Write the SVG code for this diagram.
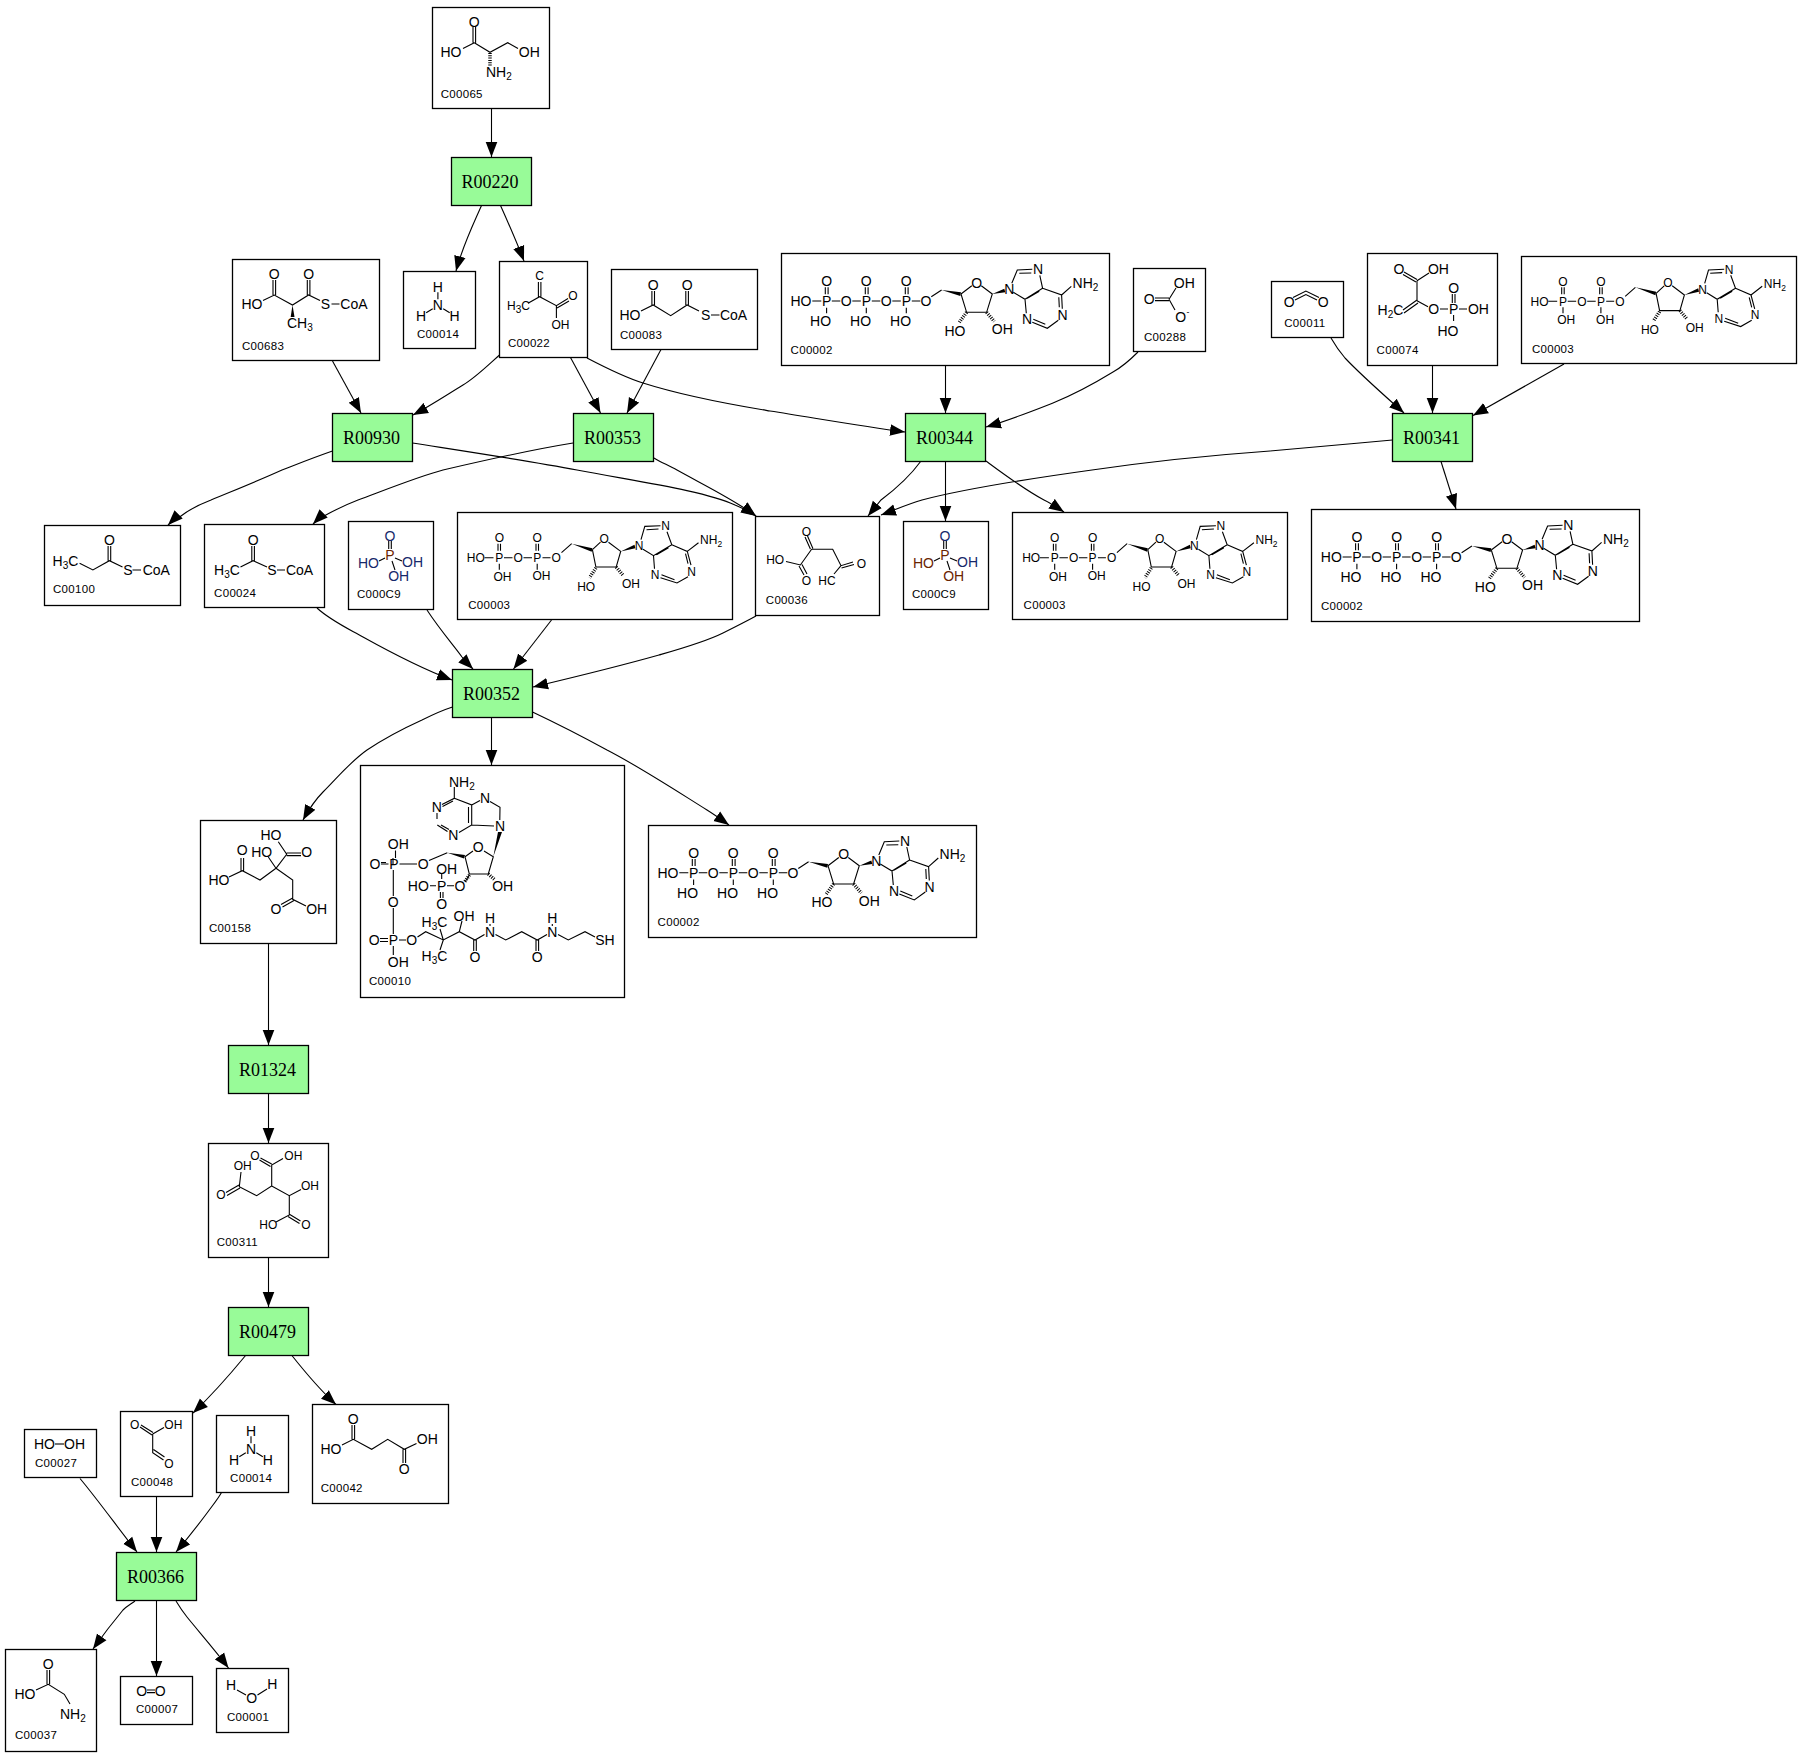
<svg xmlns="http://www.w3.org/2000/svg" xmlns:xlink="http://www.w3.org/1999/xlink" width="1801" height="1757" viewBox="0 0 1801 1757">
<style>
text{font-family:"Liberation Sans",Arial,sans-serif;fill:#000}
.n{fill:#fff;stroke:#000;stroke-width:1.3}
.r{fill:#98fb98;stroke:#000;stroke-width:1.3}
.rt{font-family:"Liberation Serif","Times New Roman",serif;font-size:18px;text-anchor:middle;transform:translate(-1px,-1px)}
.b{fill:none;stroke:#000;stroke-width:1.1}
.w{fill:#000;stroke:none}
.h{fill:none;stroke:#000;stroke-width:3.5;stroke-dasharray:1 1.3}
.a{font-size:14px;text-anchor:middle}
.m{font-size:12px;text-anchor:middle}
.st{font-size:14px}
.sm{font-size:12px}
.s{font-size:10px}
.ss{font-size:8.5px}
.l{font-size:11.5px;letter-spacing:.3px}
.c{fill:none;stroke:#000;stroke-width:1.1;marker-end:url(#ah)}
.bl{fill:#16286a}
.pr{fill:#6a2400}
</style>
<defs>
<marker id="ah" markerUnits="userSpaceOnUse" markerWidth="16" markerHeight="13" viewBox="0 -6.5 16 13" refX="15" refY="0" orient="auto"><path d="M0,-5.8L15,0L0,5.8z" fill="#000"/></marker>
<g id="atp-bonds">
<path class="b" d="M31,47.7H40M50.5,47.7H59M71,47.7H79.5M90.5,47.7H99M111,47.7H119.5M130.5,47.7H139M44,34V41M46.8,34V41M84,34V41M86.8,34V41M124,34V41M126.8,34V41M45.3,54.5V60M85,54.5V60M125,54.5V60M150,43.5L160.3,36.7M179.7,40.7L190.5,32.5M200,32.5L211,40.7L205.3,59H185.3L179.7,40.7M230.5,30L236,16.7L251,16M238,20L250,19.7M258.5,22L261.3,35L243.7,46L232,39M258,38L246,45M243.7,46L245,60M251,69L266,75L277,67M252,66L264,71M281,55.5L280.3,41.7L261.3,35M278,54L277.5,44M280.3,41.7L290,33"/>
<path class="w" d="M160.3,36.7L179.7,39L179,42.7zM211,40.7L223,35.5L224,39z"/>
<path class="h" d="M185.3,59L178,69M205.3,59L213,68"/>
</g>
<g id="adp-bonds">
<path class="b" d="M27,45H36M46.5,45H55M66,45H74.5M85,45H93M40.5,31V38M43,31V38M78.5,31V38M81,31V38M41.8,51V57M79.7,51V57M104,40L114.2,31M134.9,37L143,29.5M151,29.5L163.2,38.7L158.7,54.3H138.4L134.9,37M183.5,27L187.3,13.7L203,13M189,17L201,16.3M209.5,19L214.3,32L196,43L185.5,36.5M211,35L199,42M196,43L197,56M203,65L219.5,70.3L230.5,64M204,62L217,67M233.5,52.5L229.8,38.7L214.3,32M230.5,51L228,41M229.8,38.7L241,30"/>
<path class="w" d="M114.2,31L134.9,35.5L134.2,39zM163.2,38.7L177,32L177.8,35.5z"/>
<path class="h" d="M138.4,55.3L132,65M158.7,54.3L166,63"/>
</g>
</defs>

<g id="connectors">
<path class="c" d="M491.5,108.5V157"/>
<path class="c" d="M481.5,205.5C473,225 463,245 456,271"/>
<path class="c" d="M500.5,205.5C507,220 516,240 524,261"/>
<path class="c" d="M332.5,361L361,413"/>
<path class="c" d="M499.5,355C485,368 475,378 463,385C445,396 430,406 413,415"/>
<path class="c" d="M570.5,357.5L600.5,413"/>
<path class="c" d="M661,349.5L627,413"/>
<path class="c" d="M587,358C610,370 630,379 643,383C690,398 740,406 770,411C815,418 860,426 905,432"/>
<path class="c" d="M945.5,366V413"/>
<path class="c" d="M1138,352C1130,360 1122,367 1113,372C1095,383 1075,394 1053,403C1030,412 1010,420 986,427"/>
<path class="c" d="M1331,338C1335,345 1339,351 1345,358C1362,376 1385,396 1404,413"/>
<path class="c" d="M1432.5,365.5V413"/>
<path class="c" d="M1564,364L1473,415.5"/>
<path class="c" d="M332.5,451C315,457 300,463 282,470C260,480 235,490 211,500C198,505 190,509 181,516C176,520 171,522 168,525"/>
<path class="c" d="M412.5,443C470,452 530,461 577,470C640,482 705,491 735,505C742,508 750,512 756,516"/>
<path class="c" d="M573,443C530,450 490,459 443,470C420,476 385,490 358,500C345,505 335,510 324,516C320,519 316,521 313,524"/>
<path class="c" d="M654,458C660,462 668,465 677,470C702,484 735,500 756,516"/>
<path class="c" d="M921,461C913,472 897,488 881,500C877,505 872,511 868,516"/>
<path class="c" d="M1392.5,440C1350,444 1300,448 1270,451C1200,456 1140,463 1092,470C1020,480 960,490 922,500C905,505 895,510 881,515"/>
<path class="c" d="M945.5,461.5V521"/>
<path class="c" d="M986,461C1005,475 1025,490 1044,500C1052,504 1058,508 1064,512"/>
<path class="c" d="M1441,461.5L1456,509"/>
<path class="c" d="M317,608C330,620 345,627 363,637C390,652 420,668 452,680"/>
<path class="c" d="M427,610C440,630 455,647 462,657C466,662 470,666 473,669"/>
<path class="c" d="M551.5,620L513.5,669"/>
<path class="c" d="M756,616C745,622 735,627 723,633C705,642 680,649 659,655C620,666 575,677 533,687"/>
<path class="c" d="M452.5,707C440,711 432,715 422,720C400,730 382,740 367,750C350,762 338,777 323,792C315,800 308,811 303,820"/>
<path class="c" d="M491.5,717.5V765"/>
<path class="c" d="M532.5,712C560,725 585,738 607,750C640,767 675,790 707,810C715,815 722,820 729,825"/>
<path class="c" d="M268.5,943.5V1045"/>
<path class="c" d="M268.5,1093.5V1143"/>
<path class="c" d="M268.5,1257.5V1307"/>
<path class="c" d="M246,1355C232,1372 212,1395 193,1413"/>
<path class="c" d="M291.5,1355C305,1372 320,1390 336,1404.5"/>
<path class="c" d="M80,1478.5C98,1500 118,1528 137,1552"/>
<path class="c" d="M156.5,1497V1552"/>
<path class="c" d="M221.5,1492.5C219,1497 216,1501 213,1505C202,1520 188,1538 176,1552"/>
<path class="c" d="M135,1601C131,1604 127,1606 123,1610C113,1622 103,1635 93,1649"/>
<path class="c" d="M156.5,1601V1676"/>
<path class="c" d="M176,1601C179,1606 183,1612 187,1617C200,1633 215,1650 228.5,1668"/>
</g>

<g id="C00065"><rect class="n" x="432.5" y="7.5" width="117" height="101"/>
<path class="b" d="M473,27V42.7M475.6,27V42.7M474.3,42.7L490,52.3L507.7,42.7L518,48.5M474.3,42.7L463,48.5"/><path class="h" d="M490,53V66"/>
<text class="a" x="474.3" y="27.3">O</text><text class="a" x="451" y="57.3">HO</text><text class="a" x="529.3" y="57.3">OH</text><text class="st" x="486" y="77.3">NH<tspan class="s" dy="3">2</tspan></text>
<text class="l" x="440.7" y="97.7">C00065</text></g>

<g id="R00220"><rect class="r" x="451.5" y="157.5" width="80" height="48"/><text class="rt" x="491" y="188.5">R00220</text></g>

<g id="C00683"><rect class="n" x="232.5" y="259.5" width="147" height="101"/>
<path class="b" d="M273,280V295M275.6,280V295M307.3,280V295M309.9,280V295M263,300.5L274.3,295L292.5,305L308.6,295L320,300.5M331.5,304H339.5"/><path class="w" d="M292.5,305L290.7,317H294.5z"/>
<text class="a" x="274.3" y="279">O</text><text class="a" x="308.6" y="279">O</text><text class="a" x="252" y="309">HO</text><text class="a" x="325.4" y="309">S</text><text class="a" x="353.9" y="309">CoA</text><text class="st" x="287" y="328">CH<tspan class="s" dy="3">3</tspan></text>
<text class="l" x="242" y="349.7">C00683</text></g>

<g id="C00014-1" transform="translate(403.2 271.3)"><rect class="n" x=".3" y=".2" width="72" height="77"/>
<path class="b" d="M34.7,21V28M29.5,37.5L23,41.5M40,37.5L46.5,41.5"/>
<text class="a" x="34.7" y="20.4">H</text><text class="a" x="34.7" y="39">N</text><text class="a" x="17.8" y="49.7">H</text><text class="a" x="51.4" y="49.7">H</text>
<text class="l" x="13.8" y="66.4">C00014</text></g>

<g id="C00022"><rect class="n" x="499.5" y="261.5" width="88" height="96"/>
<path class="b" d="M538.4,282V296.7M540.9,282V296.7M528,303.3L539.6,296.7L556.4,305.7L568,298.5M557,308L569,301M556.4,305.7V318"/>
<text class="m" x="539.6" y="280">C</text><text class="sm" x="507" y="310">H<tspan class="s" dy="3">3</tspan><tspan dy="-3">C</tspan></text><text class="m" x="572.9" y="300">O</text><text class="m" x="560.4" y="328.6">OH</text>
<text class="l" x="507.9" y="346.7">C00022</text></g>

<g id="C00083"><rect class="n" x="611.5" y="269.5" width="146" height="80"/>
<path class="b" d="M651.9,291V305M654.5,291V305M685.8,291V305M688.4,291V305M641,311L653.2,305L670.7,315.7L687.1,305L699,311M711,315H719.5"/>
<text class="a" x="653.2" y="290">O</text><text class="a" x="687.1" y="290">O</text><text class="a" x="630" y="320">HO</text><text class="a" x="705.7" y="320">S</text><text class="a" x="733.6" y="320">CoA</text>
<text class="l" x="620" y="338.7">C00083</text></g>

<g id="C00002-1" transform="translate(781.3 253.3)"><rect class="n" x=".2" y=".2" width="328" height="112"/>
<use href="#atp-bonds" xlink:href="#atp-bonds"/>
<text class="a" x="19.7" y="52.7">HO</text><text class="a" x="45.3" y="52.7">P</text><text class="a" x="45.3" y="33">O</text><text class="a" x="39.3" y="72.7">HO</text><text class="a" x="65" y="52.7">O</text><text class="a" x="85" y="52.7">P</text><text class="a" x="85" y="33">O</text><text class="a" x="79.3" y="72.7">HO</text><text class="a" x="105" y="52.7">O</text><text class="a" x="125" y="52.7">P</text><text class="a" x="125" y="33">O</text><text class="a" x="119.3" y="72.7">HO</text><text class="a" x="144.7" y="52.7">O</text><text class="a" x="195.3" y="34.3">O</text><text class="a" x="173.7" y="82.3">HO</text><text class="a" x="221" y="80.7">OH</text><text class="a" x="228" y="41">N</text><text class="a" x="256.7" y="21">N</text><text class="a" x="245.7" y="71">N</text><text class="a" x="281.3" y="67">N</text><text class="st" x="291.3" y="34.3">NH<tspan class="s" dy="3">2</tspan></text>
<text class="l" x="9.3" y="101">C00002</text></g>

<g id="C00288"><rect class="n" x="1133.5" y="268.5" width="72" height="83"/>
<path class="b" d="M1155,298H1169M1155,300.6H1169M1169,299.3L1176,288M1169,299.3L1175,310"/>
<text class="a" x="1184.3" y="287.7">OH</text><text class="a" x="1149.3" y="304.3">O</text><text class="a" x="1180.7" y="322.3">O</text><text class="ss" x="1186.5" y="315">-</text>
<text class="l" x="1144" y="340.7">C00288</text></g>

<g id="C00011"><rect class="n" x="1271.5" y="281.5" width="72" height="56"/>
<path class="b" d="M1293,297.5L1305.9,291L1319,297.5M1295,300L1305.9,294.5L1317,300"/>
<text class="a" x="1289.3" y="307.3">O</text><text class="a" x="1323.1" y="307.3">O</text>
<text class="l" x="1284.2" y="326.7">C00011</text></g>

<g id="C00074"><rect class="n" x="1367.5" y="253.5" width="130" height="112"/>
<path class="b" d="M1404,272L1417,279.5M1403,274.5L1416,282M1417,280.7L1429,273M1417,280.7V300.7M1403,310L1417,300M1404,313L1418,303M1417,300.7L1428,306.7M1440,309H1448M1459,309H1467M1452.3,294V303M1455,294V303M1453.6,315V321"/>
<text class="a" x="1399" y="274.3">O</text><text class="a" x="1438.4" y="274.3">OH</text><text class="st" x="1377.5" y="315">H<tspan class="s" dy="3">2</tspan><tspan dy="-3">C</tspan></text><text class="a" x="1433.6" y="314">O</text><text class="a" x="1453.6" y="314">P</text><text class="a" x="1453.6" y="293">O</text><text class="a" x="1478.4" y="314">OH</text><text class="a" x="1448" y="335.7">HO</text>
<text class="l" x="1376.6" y="354.3">C00074</text></g>

<g id="C00003-1" transform="translate(1521.2 256.3)"><rect class="n" x=".3" y=".2" width="275" height="107"/>
<use href="#adp-bonds" xlink:href="#adp-bonds"/>
<text class="m" x="18.3" y="49.3">HO</text><text class="m" x="41.8" y="49.3">P</text><text class="m" x="41.8" y="29.3">O</text><text class="m" x="45" y="68">OH</text><text class="m" x="60.7" y="49.3">O</text><text class="m" x="79.7" y="49.3">P</text><text class="m" x="79.7" y="29.3">O</text><text class="m" x="83.9" y="67.3">OH</text><text class="m" x="98.7" y="49.3">O</text><text class="m" x="146.7" y="30.3">O</text><text class="m" x="128.7" y="78">HO</text><text class="m" x="173.5" y="75.3">OH</text><text class="m" x="181.5" y="37.3">N</text><text class="m" x="208" y="17.3">N</text><text class="m" x="197.7" y="66.3">N</text><text class="m" x="234" y="63">N</text><text class="sm" x="242.6" y="31.3">NH<tspan class="ss" dy="3">2</tspan></text>
<text class="l" x="10.7" y="96.3">C00003</text></g>

<g id="R00930"><rect class="r" x="332.5" y="413.5" width="80" height="48"/><text class="rt" x="372.5" y="444.5">R00930</text></g>
<g id="R00353"><rect class="r" x="573.5" y="413.5" width="80" height="48"/><text class="rt" x="613.5" y="444.5">R00353</text></g>
<g id="R00344"><rect class="r" x="905.5" y="413.5" width="80" height="48"/><text class="rt" x="945.5" y="444.5">R00344</text></g>
<g id="R00341"><rect class="r" x="1392.5" y="413.5" width="80" height="48"/><text class="rt" x="1432.5" y="444.5">R00341</text></g>

<g id="C00100"><rect class="n" x="44.5" y="525.5" width="136" height="80"/>
<path class="b" d="M108.1,546V560.7M110.7,546V560.7M79.6,563.3L92.9,570L109.4,560.7L122.5,567M132.5,570H141"/>
<text class="a" x="109.4" y="545">O</text><text class="st" x="52.5" y="565.7">H<tspan class="s" dy="3">3</tspan><tspan dy="-3">C</tspan></text><text class="a" x="127.8" y="575">S</text><text class="a" x="156.3" y="575">CoA</text>
<text class="l" x="53" y="593.3">C00100</text></g>

<g id="C00024"><rect class="n" x="204.5" y="524.5" width="120" height="83"/>
<path class="b" d="M251.8,546V560.7M254.4,546V560.7M240.5,567L253.1,560.7L267,567M277,570H285"/>
<text class="a" x="253.1" y="545">O</text><text class="st" x="214" y="575">H<tspan class="s" dy="3">3</tspan><tspan dy="-3">C</tspan></text><text class="a" x="272" y="575">S</text><text class="a" x="299.5" y="575">CoA</text>
<text class="l" x="214.1" y="596.7">C00024</text></g>

<g id="C00009-1"><rect class="n" x="348.5" y="521.5" width="85" height="88"/>
<path class="b" d="M388.7,541V549M391.3,541V549M379,561L385,558M395,558L402,561M392,561L395,570"/>
<text class="a bl" x="390" y="540.7">O</text><text class="a pr" x="390" y="560">P</text><text class="a bl" x="368.4" y="568.3">HO</text><text class="a bl" x="412.5" y="567.3">OH</text><text class="a bl" x="398.7" y="580.7">OH</text>
<text class="l" x="356.9" y="598.3">C000C9</text></g>

<g id="C00003-2" transform="translate(457.5 512.7)"><rect class="n" x="0" y="-.2" width="275" height="107"/>
<use href="#adp-bonds" xlink:href="#adp-bonds"/>
<text class="m" x="18.3" y="49.3">HO</text><text class="m" x="41.8" y="49.3">P</text><text class="m" x="41.8" y="29.3">O</text><text class="m" x="45" y="68">OH</text><text class="m" x="60.7" y="49.3">O</text><text class="m" x="79.7" y="49.3">P</text><text class="m" x="79.7" y="29.3">O</text><text class="m" x="83.9" y="67.3">OH</text><text class="m" x="98.7" y="49.3">O</text><text class="m" x="146.7" y="30.3">O</text><text class="m" x="128.7" y="78">HO</text><text class="m" x="173.5" y="75.3">OH</text><text class="m" x="181.5" y="37.3">N</text><text class="m" x="208" y="17.3">N</text><text class="m" x="197.7" y="66.3">N</text><text class="m" x="234" y="63">N</text><text class="sm" x="242.6" y="31.3">NH<tspan class="ss" dy="3">2</tspan></text>
<text class="l" x="10.7" y="96.3">C00003</text></g>

<g id="C00036"><rect class="n" x="755.5" y="516.5" width="124" height="99"/>
<path class="b" d="M805,537L810.4,549M807.5,536L812.9,548.5M811.6,549.3H832.7L841,565.7L853,562M841.5,568L854,564.5M811.6,549.3L800.4,565L786,561.5M799,566L804,575M802,564.5L807,574M841,565.7L834,574"/>
<text class="m" x="806.3" y="536">O</text><text class="m" x="775.2" y="563.6">HO</text><text class="m" x="861.5" y="567.6">O</text><text class="m" x="806.3" y="585.3">O</text><text class="m" x="826.9" y="585.3">HC</text>
<text class="l" x="765.8" y="604.3">C00036</text></g>

<g id="C00009-2"><rect class="n" x="903.5" y="521.5" width="85" height="88"/>
<path class="b" d="M943.7,541V549M946.3,541V549M934,561L940,558M950,558L957,561M947,561L950,570"/>
<text class="a bl" x="945" y="540.7">O</text><text class="a pr" x="945" y="560">P</text><text class="a pr" x="923.4" y="568.3">HO</text><text class="a bl" x="967.5" y="567.3">OH</text><text class="a pr" x="953.7" y="580.7">OH</text>
<text class="l" x="911.9" y="598.3">C000C9</text></g>

<g id="C00003-3" transform="translate(1012.9 512.7)"><rect class="n" x="-.4" y="-.2" width="275" height="107"/>
<use href="#adp-bonds" xlink:href="#adp-bonds"/>
<text class="m" x="18.3" y="49.3">HO</text><text class="m" x="41.8" y="49.3">P</text><text class="m" x="41.8" y="29.3">O</text><text class="m" x="45" y="68">OH</text><text class="m" x="60.7" y="49.3">O</text><text class="m" x="79.7" y="49.3">P</text><text class="m" x="79.7" y="29.3">O</text><text class="m" x="83.9" y="67.3">OH</text><text class="m" x="98.7" y="49.3">O</text><text class="m" x="146.7" y="30.3">O</text><text class="m" x="128.7" y="78">HO</text><text class="m" x="173.5" y="75.3">OH</text><text class="m" x="181.5" y="37.3">N</text><text class="m" x="208" y="17.3">N</text><text class="m" x="197.7" y="66.3">N</text><text class="m" x="234" y="63">N</text><text class="sm" x="242.6" y="31.3">NH<tspan class="ss" dy="3">2</tspan></text>
<text class="l" x="10.7" y="96.3">C00003</text></g>

<g id="C00002-2" transform="translate(1311.6 509.3)"><rect class="n" x="-.1" y=".2" width="328" height="112"/>
<use href="#atp-bonds" xlink:href="#atp-bonds"/>
<text class="a" x="19.7" y="52.7">HO</text><text class="a" x="45.3" y="52.7">P</text><text class="a" x="45.3" y="33">O</text><text class="a" x="39.3" y="72.7">HO</text><text class="a" x="65" y="52.7">O</text><text class="a" x="85" y="52.7">P</text><text class="a" x="85" y="33">O</text><text class="a" x="79.3" y="72.7">HO</text><text class="a" x="105" y="52.7">O</text><text class="a" x="125" y="52.7">P</text><text class="a" x="125" y="33">O</text><text class="a" x="119.3" y="72.7">HO</text><text class="a" x="144.7" y="52.7">O</text><text class="a" x="195.3" y="34.3">O</text><text class="a" x="173.7" y="82.3">HO</text><text class="a" x="221" y="80.7">OH</text><text class="a" x="228" y="41">N</text><text class="a" x="256.7" y="21">N</text><text class="a" x="245.7" y="71">N</text><text class="a" x="281.3" y="67">N</text><text class="st" x="291.3" y="34.3">NH<tspan class="s" dy="3">2</tspan></text>
<text class="l" x="9.3" y="101">C00002</text></g>

<g id="R00352"><rect class="r" x="452.5" y="669.5" width="80" height="48"/><text class="rt" x="492.5" y="700.5">R00352</text></g>

<g id="C00158"><rect class="n" x="200.5" y="820.5" width="136" height="123"/>
<path class="b" d="M276,868.3L286.7,854.3L278.3,841.7M286.7,853H301M286.7,855.6H301M276,868.3L268.3,857M276,868.3L260,880L242.3,870.7L229,877M241,858V870.7M243.6,858V870.7M276,868.3L292.7,880V899.3L306,906M292.7,898L281,904.5M294,900.5L282.5,907"/>
<text class="a" x="271" y="840.3">HO</text><text class="a" x="306.7" y="857.3">O</text><text class="a" x="242.3" y="855">O</text><text class="a" x="261.7" y="857.3">HO</text><text class="a" x="219" y="885">HO</text><text class="a" x="276" y="914.3">O</text><text class="a" x="316.7" y="914.3">OH</text>
<text class="l" x="209" y="932.3">C00158</text></g>

<g id="C00010"><rect class="n" x="360.5" y="765.5" width="264" height="232"/>
<path class="b" d="M454.3,787V798.3L442,804.5M453,801L442.5,806.5M437,813V819M437.3,825L447.5,831.5M441,825L449,829.5M459,832.5L471.7,825V805L454.3,798.3M468.5,823V807M471.7,805L480,800.5M490,801.5L500,807.3L499.8,820M471.7,825L494,826"/>
<path class="b" d="M393,858V864M388.5,864H381M386,862.5H381M399.5,864H417M429,860.5L447.3,852.7M465,856.7L473,851M484,851L493.3,856.7L488.3,874H469.3L465,856.7M469.3,875L465,882M395.5,850.5V858M393.3,870V896M393.3,908V934M388,938.5H380M388,941.5H380M399,940H406M417.5,937L425.7,931.7L443.3,940L459.3,931.7L475,940L484.5,934.5M443.3,940L440,929M443.3,940L440,950M459.3,931.7L462,921M473.7,940V951M476.3,940V951M490,924V926M495.5,934.5L505.7,940L521.7,931.7L537.3,940L547,934.5M536,940V951M538.6,940V951M552.3,924V926M558,934.5L568.3,940L585,931.7L595,937M393.3,946V955M454,885.7H447M436,885.7H430M441.7,879V873M440.4,892V898M443,892V898"/>
<path class="w" d="M447.3,852.7L465,855L464,858.5zM493.3,856.7L498,832H502z"/>
<path class="h" d="M469.5,875L464.5,882M488.3,874L495,880"/>
<text class="st" x="449" y="787.3">NH<tspan class="s" dy="3">2</tspan></text><text class="a" x="436.7" y="812.3">N</text><text class="a" x="453.3" y="840.3">N</text><text class="a" x="485" y="803.3">N</text><text class="a" x="500" y="831">N</text><text class="a" x="478.3" y="851.7">O</text><text class="a" x="502.7" y="890.7">OH</text><text class="a" x="423.3" y="869">O</text><text class="a" x="394" y="869">P</text><text class="a" x="398.3" y="849">OH</text><text class="a" x="375" y="869">O</text><text class="a" x="393.3" y="907.3">O</text><text class="a" x="393.3" y="945">P</text><text class="a" x="374.3" y="945">O</text><text class="a" x="411.7" y="945">O</text><text class="a" x="398.3" y="966.7">OH</text><text class="st" x="421.5" y="927.3">H<tspan class="s" dy="3">3</tspan><tspan dy="-3">C</tspan></text><text class="st" x="421.5" y="961">H<tspan class="s" dy="3">3</tspan><tspan dy="-3">C</tspan></text><text class="a" x="464" y="920.7">OH</text><text class="a" x="475" y="962.3">O</text><text class="a" x="490" y="923.3">H</text><text class="a" x="490" y="936.7">N</text><text class="a" x="537.3" y="962.3">O</text><text class="a" x="552.3" y="923.3">H</text><text class="a" x="552.3" y="936.7">N</text><text class="a" x="605" y="945">SH</text><text class="a" x="460" y="890.7">O</text><text class="a" x="441.7" y="890.7">P</text><text class="a" x="446.7" y="874">OH</text><text class="a" x="418.3" y="890.7">HO</text><text class="a" x="441.7" y="909">O</text>
<text class="l" x="369" y="985">C00010</text></g>

<g id="C00002-3" transform="translate(648.3 825)"><rect class="n" x=".2" y=".5" width="328" height="112"/>
<use href="#atp-bonds" xlink:href="#atp-bonds"/>
<text class="a" x="19.7" y="52.7">HO</text><text class="a" x="45.3" y="52.7">P</text><text class="a" x="45.3" y="33">O</text><text class="a" x="39.3" y="72.7">HO</text><text class="a" x="65" y="52.7">O</text><text class="a" x="85" y="52.7">P</text><text class="a" x="85" y="33">O</text><text class="a" x="79.3" y="72.7">HO</text><text class="a" x="105" y="52.7">O</text><text class="a" x="125" y="52.7">P</text><text class="a" x="125" y="33">O</text><text class="a" x="119.3" y="72.7">HO</text><text class="a" x="144.7" y="52.7">O</text><text class="a" x="195.3" y="34.3">O</text><text class="a" x="173.7" y="82.3">HO</text><text class="a" x="221" y="80.7">OH</text><text class="a" x="228" y="41">N</text><text class="a" x="256.7" y="21">N</text><text class="a" x="245.7" y="71">N</text><text class="a" x="281.3" y="67">N</text><text class="st" x="291.3" y="34.3">NH<tspan class="s" dy="3">2</tspan></text>
<text class="l" x="9.3" y="101">C00002</text></g>

<g id="R01324"><rect class="r" x="228.5" y="1045.5" width="80" height="48"/><text class="rt" x="268.5" y="1076.5">R01324</text></g>

<g id="C00311"><rect class="n" x="208.5" y="1143.5" width="120" height="114"/>
<path class="b" d="M241,1172L239.3,1186.7L256.7,1195.7L271.7,1186V1165L283,1158.5M239,1185L226,1192.5M240,1188L227,1195.5M271.7,1164L260.5,1158M270.5,1166.5L259.5,1160M271.7,1186L289.3,1195.7L301,1189.5M289.3,1195.7V1215L276,1222M289,1214L300.5,1221M288,1216.5L299.5,1223.5"/>
<text class="m" x="242.7" y="1170">OH</text><text class="m" x="221" y="1199.3">O</text><text class="m" x="255" y="1160.3">O</text><text class="m" x="293.3" y="1160.3">OH</text><text class="m" x="310" y="1190">OH</text><text class="m" x="268.3" y="1229.3">HO</text><text class="m" x="306" y="1229.3">O</text>
<text class="l" x="216.7" y="1246.3">C00311</text></g>

<g id="R00479"><rect class="r" x="228.5" y="1307.5" width="80" height="48"/><text class="rt" x="268.5" y="1338.5">R00479</text></g>

<g id="C00027"><rect class="n" x="24.5" y="1429.5" width="72" height="48"/>
<path class="b" d="M55,1444H64"/>
<text class="a" x="44.5" y="1449">HO</text><text class="a" x="74.5" y="1449">OH</text>
<text class="l" x="35" y="1466.7">C00027</text></g>

<g id="C00048"><rect class="n" x="120.5" y="1411.5" width="72" height="85"/>
<path class="b" d="M140,1427L152,1435M141,1425L153,1432.5M152.7,1434L164,1427.5M152.7,1434V1452.7L163.5,1460M153.5,1449.5L164.5,1457"/>
<text class="m" x="134.7" y="1429">O</text><text class="m" x="173.3" y="1429">OH</text><text class="m" x="169" y="1467.6">O</text>
<text class="l" x="131" y="1485.7">C00048</text></g>

<g id="C00014-2" transform="translate(216.3 1415.3)"><rect class="n" x=".2" y=".2" width="72" height="77"/>
<path class="b" d="M34.7,21V28M29.5,37.5L23,41.5M40,37.5L46.5,41.5"/>
<text class="a" x="34.7" y="20.4">H</text><text class="a" x="34.7" y="39">N</text><text class="a" x="17.8" y="49.7">H</text><text class="a" x="51.4" y="49.7">H</text>
<text class="l" x="13.8" y="66.4">C00014</text></g>

<g id="C00042"><rect class="n" x="312.5" y="1404.5" width="136" height="99"/>
<path class="b" d="M352,1425V1439.3M354.6,1425V1439.3M342,1445L353.3,1439.3L371.7,1449.3L387.7,1439.3L404.3,1449.3L416.5,1443.5M403,1449.3V1463M405.6,1449.3V1463"/>
<text class="a" x="353.3" y="1424">O</text><text class="a" x="331" y="1454.3">HO</text><text class="a" x="427.3" y="1444.3">OH</text><text class="a" x="404.3" y="1474">O</text>
<text class="l" x="320.7" y="1492.3">C00042</text></g>

<g id="R00366"><rect class="r" x="116.5" y="1552.5" width="80" height="48"/><text class="rt" x="156.5" y="1583.5">R00366</text></g>

<g id="C00037"><rect class="n" x="5.5" y="1649.5" width="91" height="102"/>
<path class="b" d="M47,1670V1684.3M49.6,1670V1684.3M36,1690L48.3,1684.3L64.3,1694.3L70,1704"/>
<text class="a" x="48.3" y="1669.3">O</text><text class="a" x="25" y="1699.3">HO</text><text class="st" x="60" y="1719.3">NH<tspan class="s" dy="3">2</tspan></text>
<text class="l" x="15" y="1739">C00037</text></g>

<g id="C00007"><rect class="n" x="120.5" y="1676.5" width="72" height="48"/>
<path class="b" d="M147,1690H155M147,1692.6H155"/>
<text class="a" x="141.7" y="1696.3">O</text><text class="a" x="160.3" y="1696.3">O</text>
<text class="l" x="136" y="1713.3">C00007</text></g>

<g id="C00001"><rect class="n" x="216.5" y="1668.5" width="72" height="64"/>
<path class="b" d="M237,1690L246,1695M257.5,1695L267,1689"/>
<text class="a" x="231" y="1690">H</text><text class="a" x="251.7" y="1702.7">O</text><text class="a" x="272.3" y="1689">H</text>
<text class="l" x="227" y="1721.3">C00001</text></g>
</svg>
